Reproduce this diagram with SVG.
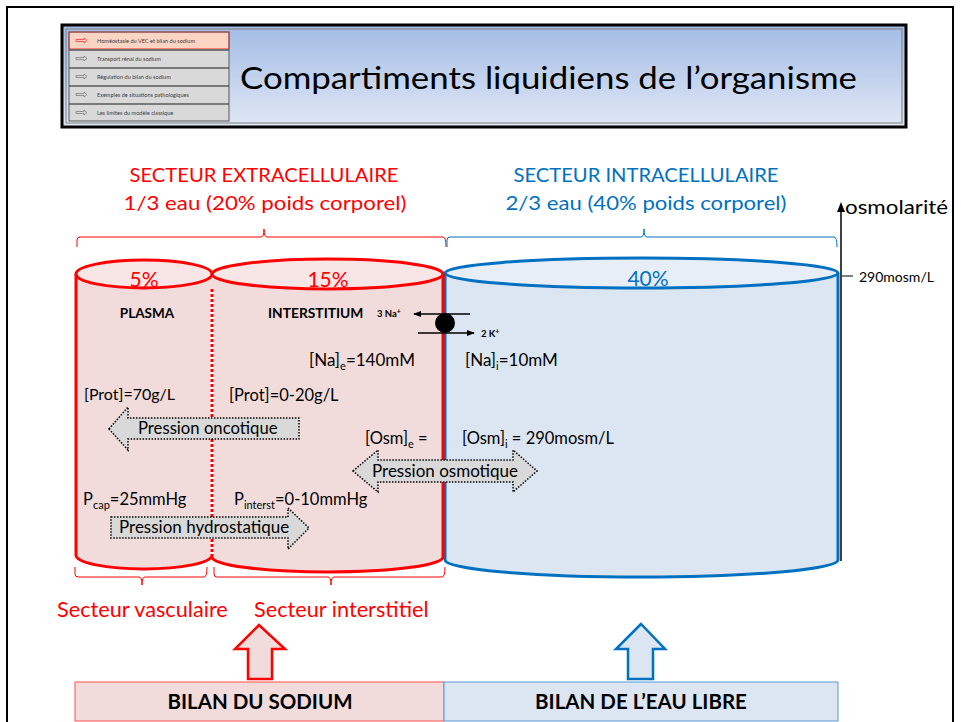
<svg xmlns="http://www.w3.org/2000/svg" width="961" height="722" viewBox="0 0 961 722">
<style>
text{font-family:Lato,"Open Sans","Liberation Sans",sans-serif;}
.red{fill:#ff0000;}
.blue{fill:#0070c0;}
.blk{fill:#000;}
.nav{font-size:5.6px;fill:#404040;}
.rs{stroke:#ff0000;stroke-width:3;fill:none;}
.bs{stroke:#0070c0;stroke-width:3;fill:none;}
.blockarrow{fill:#d9d9d9;stroke:#000;stroke-width:1.5;stroke-dasharray:1.5 1.5;}
.brace-r{fill:none;stroke:#ff0000;stroke-width:1;}
.brace-b{fill:none;stroke:#0070c0;stroke-width:1;}
.lbl{font-size:16.5px;}
.parr{font-size:17px;}
</style>
<defs>
<linearGradient id="hdr" x1="0" y1="0" x2="0" y2="1">
<stop offset="0" stop-color="#a3bbe5"/>
<stop offset="1" stop-color="#e0e8f5"/>
</linearGradient>
<marker id="ah" markerWidth="8" markerHeight="8" refX="7" refY="4" orient="auto" markerUnits="userSpaceOnUse">
<path d="M0,1 L8,4 L0,7 Z" fill="#000"/>
</marker>
</defs>
<rect x="0" y="0" width="961" height="722" fill="#fff"/>
<rect x="7" y="7" width="946" height="730" fill="none" stroke="#000" stroke-width="2"/>

<g id="header">
<rect x="62" y="25" width="844" height="102" fill="url(#hdr)" stroke="#000" stroke-width="3"/>
<rect x="66" y="29" width="836" height="94" fill="none" stroke="#7f7f7f" stroke-width="1"/>
<text x="240" y="89" font-size="31" fill="#000" textLength="617" lengthAdjust="spacingAndGlyphs">Compartiments liquidiens de l’organisme</text>
</g>

<g id="nav">
<rect x="69" y="32" width="160" height="89" fill="#d9d9d9"/>
<rect x="69" y="32" width="160" height="17" fill="#fbd4c4" stroke="#ff3333" stroke-width="1"/>
<line x1="69" y1="50" x2="229" y2="50" stroke="#595959" stroke-width="1.5"/>
<line x1="69" y1="68" x2="229" y2="68" stroke="#595959" stroke-width="1.5"/>
<line x1="69" y1="86" x2="229" y2="86" stroke="#595959" stroke-width="1.5"/>
<line x1="69" y1="104" x2="229" y2="104" stroke="#595959" stroke-width="1.5"/>
<rect x="69" y="32" width="160" height="89" fill="none" stroke="#595959" stroke-width="1"/>
<path d="M76,39.5 h8 v-1.5 l3,2.5 l-3,2.5 v-1.5 h-8 z" fill="none" stroke="#ff3333" stroke-width="0.8"/>
<path d="M76,57.5 h8 v-1.5 l3,2.5 l-3,2.5 v-1.5 h-8 z" fill="none" stroke="#7f7f7f" stroke-width="0.8"/>
<path d="M76,75.5 h8 v-1.5 l3,2.5 l-3,2.5 v-1.5 h-8 z" fill="none" stroke="#7f7f7f" stroke-width="0.8"/>
<path d="M76,93.5 h8 v-1.5 l3,2.5 l-3,2.5 v-1.5 h-8 z" fill="none" stroke="#7f7f7f" stroke-width="0.8"/>
<path d="M76,111.5 h8 v-1.5 l3,2.5 l-3,2.5 v-1.5 h-8 z" fill="none" stroke="#7f7f7f" stroke-width="0.8"/>
<text class="nav" x="97" y="43" fill="#7f2f2f">Homéostasie du VEC et bilan du sodium</text>
<text class="nav" x="97" y="61">Transport rénal du sodium</text>
<text class="nav" x="97" y="79">Régulation du bilan du sodium</text>
<text class="nav" x="97" y="97">Exemples de situations pathologiques</text>
<text class="nav" x="97" y="115">Les limites du modèle classique</text>
</g>

<g id="headings">
<text class="red" x="264" y="182" font-size="20" text-anchor="middle" textLength="269" lengthAdjust="spacingAndGlyphs">SECTEUR EXTRACELLULAIRE</text>
<text class="red" x="265" y="210" font-size="20" text-anchor="middle" textLength="283" lengthAdjust="spacingAndGlyphs">1/3 eau (20% poids corporel)</text>
<text class="blue" x="646" y="182" font-size="20" text-anchor="middle" textLength="265" lengthAdjust="spacingAndGlyphs">SECTEUR INTRACELLULAIRE</text>
<text class="blue" x="646" y="210" font-size="20" text-anchor="middle" textLength="281" lengthAdjust="spacingAndGlyphs">2/3 eau (40% poids corporel)</text>
<path class="brace-r" d="M77,247 V240 Q77,237 80,237 H261 Q264,237 264,229 Q264,237 267,237 H443 Q446,237 446,247"/>
<path class="brace-b" d="M447,247 V240 Q447,237 450,237 H641 Q644,237 644,229 Q644,237 647,237 H834 Q837,237 837,247"/>
</g>

<g id="axis">
<line x1="841" y1="210" x2="841" y2="561" stroke="#000" stroke-width="1.5"/>
<path d="M841,202 L837,212 L845,212 Z" fill="#000"/>
<text class="blk" x="845" y="214" font-size="20" textLength="103" lengthAdjust="spacingAndGlyphs">osmolarité</text>
<line x1="842" y1="276" x2="853" y2="276" stroke="#000" stroke-width="1"/>
<text class="blk" x="859" y="282" font-size="14">290mosm/L</text>
</g>

<g id="intracellulaire">
<path d="M445,273 V560 A197,17 0 0 0 838,560 V273 Z" fill="#dce6f2"/>
<ellipse cx="641.5" cy="273" rx="196.5" ry="15" fill="#e7eef8"/>
<path class="bs" d="M445,273 V560 A196.5,17 0 0 0 838,560 V273"/>
<ellipse class="bs" cx="641.5" cy="273" rx="196.5" ry="15"/>
<text class="blue" x="648" y="286" font-size="21" text-anchor="middle">40%</text>
</g>

<g id="interstitium">
<path d="M212,274 V557 A115.5,15 0 0 0 443,557 V274 Z" fill="#f2dcdb"/>
<ellipse cx="327.5" cy="274" rx="115.5" ry="15" fill="#f8e6e6"/>
<path class="rs" d="M212,557 A115.5,15 0 0 0 443,557 V274"/>
<ellipse class="rs" cx="327.5" cy="274" rx="115.5" ry="15"/>
<text class="red" x="328" y="287" font-size="21" text-anchor="middle">15%</text>
<text class="blk" x="268" y="318" font-size="13.8" font-weight="bold">INTERSTITIUM</text>
</g>

<g id="plasma">
<path d="M76,274 V555 A68,14 0 0 0 212,555 V274 Z" fill="#f2dcdb"/>
<ellipse cx="144" cy="274" rx="68" ry="14" fill="#f8e6e6"/>
<path class="rs" d="M76,274 V555 A68,14 0 0 0 212,555"/>
<ellipse class="rs" cx="144" cy="274" rx="68" ry="14"/>
<line x1="212" y1="289" x2="212" y2="556" stroke="#fff" stroke-width="3"/>
<line x1="212" y1="289" x2="212" y2="556" stroke="#ff0000" stroke-width="3" stroke-dasharray="3 2"/>
<text class="red" x="144" y="287" font-size="21" text-anchor="middle">5%</text>
<text class="blk" x="147" y="318" font-size="13.5" font-weight="bold" text-anchor="middle">PLASMA</text>
</g>

<g id="pompe">
<circle cx="445" cy="323" r="10" fill="#000"/>
<text class="blk" x="377" y="317" font-size="9.5" font-weight="bold">3 Na<tspan font-size="7" dy="-3">+</tspan></text>
<text class="blk" x="481" y="337" font-size="9.5" font-weight="bold">2 K<tspan font-size="7" dy="-3">+</tspan></text>
</g>

<g id="labels">
<text class="blk" x="309" y="366" font-size="17">[Na]<tspan font-size="11" dy="4">e</tspan><tspan dy="-4">=140mM</tspan></text>
<text class="blk" x="465" y="366" font-size="17">[Na]<tspan font-size="11" dy="4">i</tspan><tspan dy="-4">=10mM</tspan></text>
<text class="blk" x="84" y="400" font-size="16">[Prot]=70g/L</text>
<text class="blk lbl" x="229" y="401">[Prot]=0-20g/L</text>
<text class="blk lbl" x="365" y="444">[Osm]<tspan font-size="11" dy="4">e</tspan><tspan dy="-4"> =</tspan></text>
<text class="blk lbl" x="462" y="444">[Osm]<tspan font-size="11" dy="4">i</tspan><tspan dy="-4"> = 290mosm/L</tspan></text>
<text class="blk lbl" x="83" y="505">P<tspan font-size="11" dy="4">cap</tspan><tspan dy="-4">=25mmHg</tspan></text>
<text class="blk lbl" x="234" y="505">P<tspan font-size="11" dy="4">interst</tspan><tspan dy="-4">=0-10mmHg</tspan></text>
</g>

<g id="pression-oncotique">
<polygon class="blockarrow" points="109,429 128,407 128,418 299,418 299,439 128,439 128,450"/>
<text class="blk" x="138" y="434" font-size="16.7">Pression oncotique</text>
</g>
<g id="pression-osmotique">
<polygon class="blockarrow" points="353,471 378,450 378,460 513,460 513,450 537,471 513,492 513,482 378,482 378,492"/>
<text class="blk parr" x="372" y="477">Pression osmotique</text>
</g>
<g id="pression-hydrostatique">
<polygon class="blockarrow" points="111,517 288,517 288,508 309,528 288,549 288,538 111,538"/>
<text class="blk parr" x="119" y="533">Pression hydrostatique</text>
</g>

<g id="connectors">
<line x1="470" y1="314" x2="414" y2="314" stroke="#000" stroke-width="1.3" marker-end="url(#ah)"/>
<line x1="418" y1="333" x2="474" y2="333" stroke="#000" stroke-width="1.3" marker-end="url(#ah)"/>
</g>

<g id="secteurs">
<path class="brace-r" d="M75,567 V574 Q75,577 78,577 H139 Q142,577 142,585 Q142,577 145,577 H204 Q207,577 207,567"/>
<path class="brace-r" d="M214,567 V574 Q214,577 217,577 H328 Q331,577 331,585 Q331,577 334,577 H442 Q445,577 445,567"/>
<text class="red" x="57" y="617" font-size="21.7">Secteur vasculaire</text>
<text class="red" x="254" y="617" font-size="21.7">Secteur interstitiel</text>
</g>

<g id="bilan-sodium">
<polygon points="259,625 235,649 248,649 248,679 272,679 272,649 285,649" fill="#f2dcdb" stroke="#ff0000" stroke-width="2.5"/>
<rect x="75" y="682" width="369" height="39" fill="#f2dcdb" stroke="#ff5050" stroke-width="1"/>
<text class="blk" x="260" y="709" font-size="20.5" font-weight="bold" text-anchor="middle">BILAN DU SODIUM</text>
</g>

<g id="bilan-eau">
<polygon points="641,624 616,649 628,649 628,679 653,679 653,649 665,649" fill="#dce6f2" stroke="#0070c0" stroke-width="2.5"/>
<rect x="444" y="682" width="394" height="39" fill="#dce6f2" stroke="#5b9bd5" stroke-width="1"/>
<text class="blk" x="641" y="709" font-size="20.5" font-weight="bold" text-anchor="middle">BILAN DE L’EAU LIBRE</text>
</g>
</svg>
